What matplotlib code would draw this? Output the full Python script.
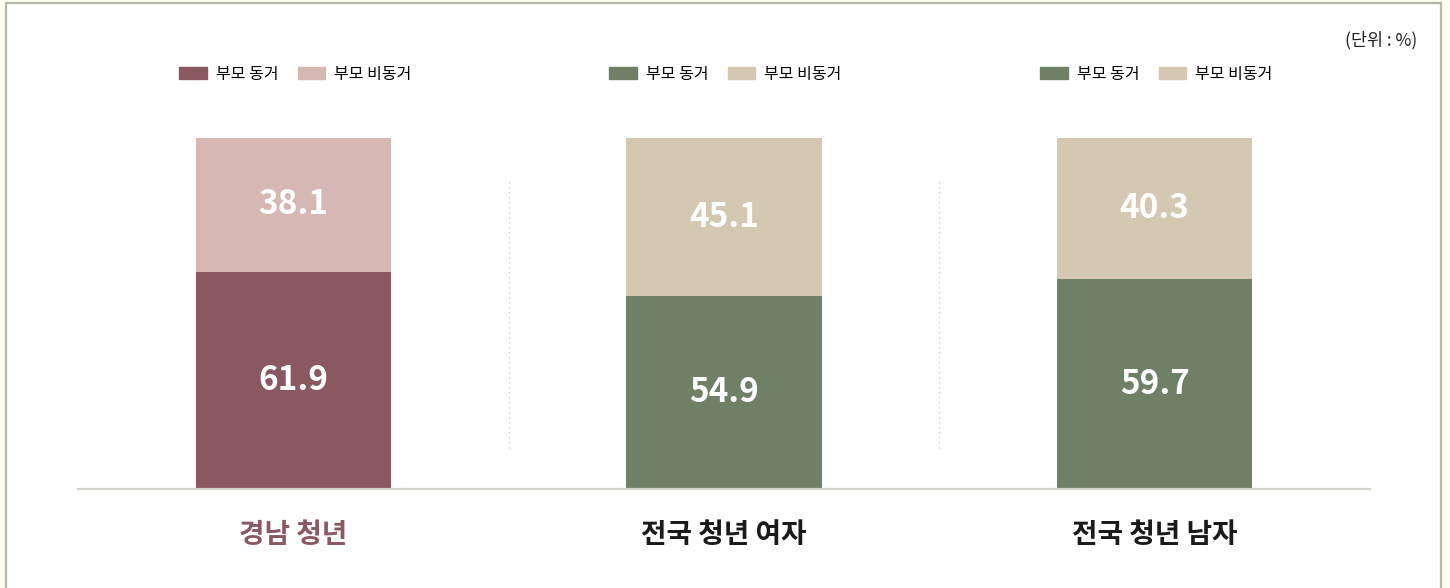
import matplotlib
matplotlib.use("Agg")
import matplotlib.pyplot as plt
from matplotlib.patches import Rectangle, Patch

plt.rcParams['font.family'] = ['Noto Sans CJK KR', 'DejaVu Sans']

# data
groups = ['경남 청년', '전국 청년 여자', '전국 청년 남자']
live_with = [61.9, 54.9, 59.7]      # 부모 동거
live_apart = [38.1, 45.1, 40.3]     # 부모 비동거
series_names = ['부모 동거', '부모 비동거']

dark_cols = ['#8a5861', '#6f8066', '#6f8066']
light_cols = ['#d5b8b4', '#d5c8b3', '#d5c8b3']
label_cols = ['#8a5861', '#1a1a1a', '#1a1a1a']

fig = plt.figure(figsize=[14.5, 5.88], dpi=100)
fig.patch.set_facecolor('#fffcf0')
# white card with thin border
fig.patches.append(Rectangle((6 / 1450, -0.05), 1435 / 1450, 1.05 - 3 / 588,
                             transform=fig.transFigure, facecolor='white',
                             edgecolor='#b3bba4', linewidth=1.6, zorder=-5))

ax = fig.add_axes([78 / 1450, 1 - 489 / 588, 1292 / 1450, 351 / 588])
ax.set_facecolor('none')
x = range(len(groups))
w = 0.453
ax.bar(x, live_with, width=w, color=dark_cols, zorder=2)
ax.bar(x, live_apart, width=w, bottom=live_with, color=light_cols, zorder=2)

for i in x:
    ax.text(i, live_with[i] / 2, f'{live_with[i]:.1f}', ha='center', va='center',
            color='white', fontsize=24, fontweight='bold')
    ax.text(i, live_with[i] + live_apart[i] / 2, f'{live_apart[i]:.1f}', ha='center',
            va='center', color='white', fontsize=24, fontweight='bold')

# dotted separators
for sx in [0.5, 1.5]:
    ax.plot([sx, sx], [11.7, 88.6], color='#c8c8c8', linestyle=(0, (1, 3)), lw=0.9)

ax.set_xlim(-0.5, 2.5)
ax.set_ylim(0, 100)
for s in ['top', 'right', 'left']:
    ax.spines[s].set_visible(False)
ax.spines['bottom'].set_color('#d3d3cc')
ax.spines['bottom'].set_linewidth(1.6)
ax.set_yticks([])
ax.set_xticks(list(x))
ax.set_xticklabels(groups, fontsize=20, fontweight='bold')
for lab, c in zip(ax.get_xticklabels(), label_cols):
    lab.set_color(c)
ax.tick_params(axis='x', length=0, pad=23)

# one legend per panel
leg_x = [171, 601, 1032]
for i in x:
    handles = [Patch(color=dark_cols[i]), Patch(color=light_cols[i])]
    leg = fig.legend(handles, series_names, loc='center left',
                     bbox_to_anchor=(leg_x[i] / 1450, 1 - 74 / 588), ncol=2,
                     frameon=False, fontsize=11.5, borderpad=0, handlelength=1.75,
                     handleheight=0.7, handletextpad=0.55, columnspacing=1.2)

fig.text(1417 / 1450, 1 - 40 / 588, '(단위 : %)', ha='right', va='center',
         fontsize=12.5, color='#222222')

fig.savefig('out.png', dpi=100)
